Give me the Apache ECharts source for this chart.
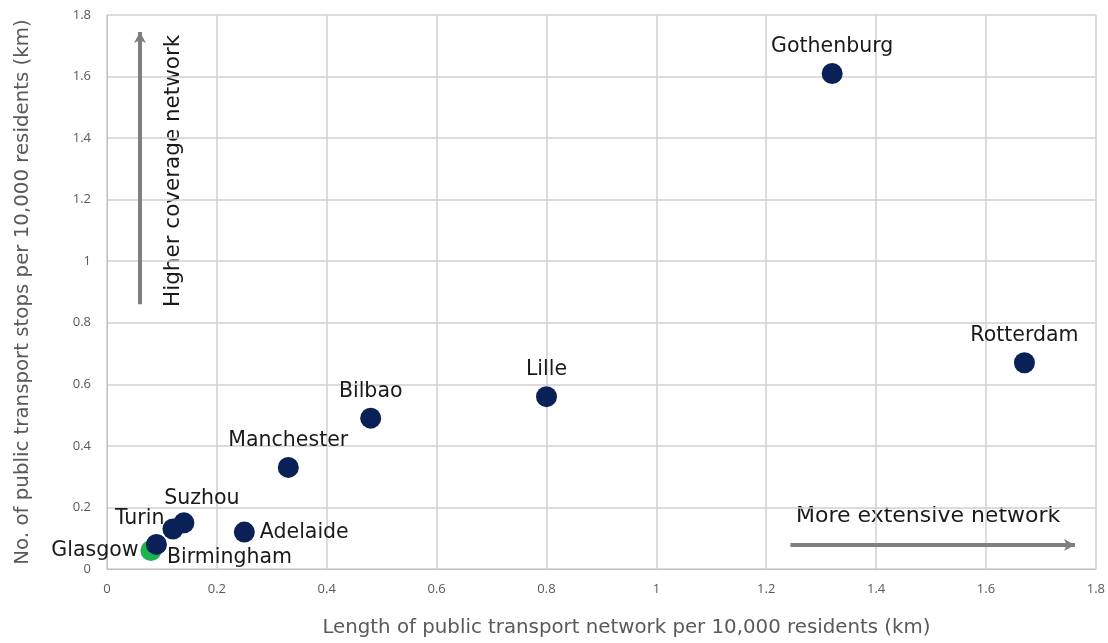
<!DOCTYPE html>
<html><head><meta charset="utf-8">
<script src="https://cdn.jsdelivr.net/npm/echarts@6/dist/echarts.min.js"></script>
<style>html,body{margin:0;padding:0;background:#fff}#c{width:1108px;height:643px}</style>
</head><body><div id="c"></div>
<script>
const cities = ["Gothenburg","Rotterdam","Lille","Bilbao","Manchester","Adelaide","Suzhou","Turin","Birmingham","Glasgow"];
const networkLength = [1.32,1.67,0.80,0.48,0.33,0.25,0.14,0.12,0.09,0.08];
const stopsCount = [1.61,0.67,0.56,0.49,0.33,0.12,0.15,0.13,0.08,0.06];
const highlight = ["Glasgow"];
const labelPos = {
  Gothenburg:{position:'top',offset:[0,-1]},
  Rotterdam:{position:'top',offset:[0,-1]},
  Lille:{position:'top',offset:[0,-1]},
  Bilbao:{position:'top',offset:[0,-1]},
  Manchester:{position:'top',offset:[0,-1]},
  Adelaide:{position:'right',offset:[0,1]},
  Suzhou:{position:'top',offset:[18,2]},
  Turin:{position:'left',offset:[7,-10]},
  Birmingham:{position:'right',offset:[-5,13]},
  Glasgow:{position:'left',offset:[3,0]}
};
const FONT = 'DejaVu Sans';
const navy = '#0a2158', green = '#1db34f';
// Glasgow drawn first so Birmingham overlaps it
const order = [9,0,1,2,3,4,5,6,7,8];
const data = order.map(i => ({
  value:[networkLength[i], stopsCount[i]],
  name:cities[i],
  itemStyle:{color: highlight.includes(cities[i]) ? green : navy, opacity:1},
  label:Object.assign({show:true, formatter:cities[i], color:'#1a1a1a', fontSize:20.5, fontFamily:FONT, distance:5}, labelPos[cities[i]])
}));
const chart = echarts.init(document.getElementById('c'));
chart.setOption({
  animation:false,
  grid:{left:107,right:11,top:15,bottom:73},
  xAxis:{type:'value',min:0,max:1.8,interval:0.2,
    name:'Length of public transport network per 10,000 residents (km)',nameLocation:'middle',nameGap:49,
    nameTextStyle:{color:'#595959',fontSize:19.8,fontFamily:FONT,padding:[0,0,0,50]},
    axisLine:{show:true,lineStyle:{color:'#bfbfbf'}},axisTick:{show:false},
    axisLabel:{color:'#595959',fontSize:13,fontFamily:'Open Sans',margin:14,formatter:v=>+v.toFixed(1)+''},
    splitLine:{show:true,lineStyle:{color:'#d0d0d0',width:1.5}}},
  yAxis:{type:'value',min:0,max:1.8,interval:0.2,
    name:'No. of public transport stops per 10,000 residents (km)',nameLocation:'middle',nameGap:74,
    nameTextStyle:{color:'#595959',fontSize:19.8,fontFamily:FONT},
    axisLine:{show:true,lineStyle:{color:'#bfbfbf'}},axisTick:{show:false},
    axisLabel:{color:'#595959',fontSize:13,fontFamily:'Open Sans',margin:16,formatter:v=>+v.toFixed(1)+''},
    splitLine:{show:true,lineStyle:{color:'#d0d0d0',width:1.5}}},
  series:[{
    type:'scatter',symbolSize:21,data:data,z:3,
    markLine:{silent:true,symbol:['none','arrow'],symbolSize:[9,11],
      lineStyle:{color:'#7f7f7f',width:4,type:'solid'},label:{show:false},
      data:[
        [{coord:[0.06,0.86]},{coord:[0.06,1.745]}],
        [{coord:[1.244,0.078]},{coord:[1.762,0.078]}]
      ]}
  }],
  graphic:[
    {type:'text',x:162,y:307,rotation:Math.PI/2,style:{text:'Higher coverage network',fontSize:21.5,fontFamily:FONT,fill:'#1a1a1a',textBaseline:'top'}},
    {type:'text',x:796,y:505,style:{text:'More extensive network',fontSize:22,fontFamily:FONT,fill:'#1a1a1a'}}
  ]
});
</script></body></html>
